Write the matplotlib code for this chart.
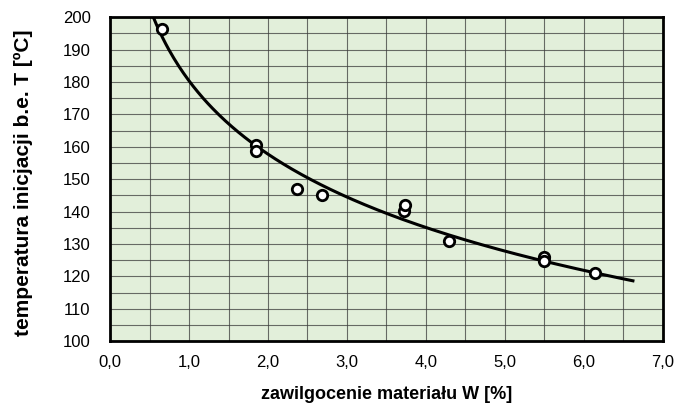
import numpy as np
import matplotlib.pyplot as plt
from matplotlib.ticker import MultipleLocator, FuncFormatter

plt.rcParams['font.family'] = ['Liberation Sans', 'DejaVu Sans']

# ---------------- data ----------------
moisture = [0.66, 1.85, 1.85, 2.37, 2.68, 3.72, 3.74, 4.29, 5.49, 5.49, 6.14]
temperature = [196.5, 160.6, 158.7, 147.0, 145.0, 140.3, 142.0, 131.0, 126.0, 124.7, 121.0]

# logarithmic trend line, drawn a bit beyond the data like Excel does
trend_from, trend_to = 0.5, 6.62
coef = np.polyfit(np.log(moisture), temperature, 1)
xt = np.linspace(trend_from, trend_to, 300)
yt = coef[0] * np.log(xt) + coef[1]

# ---------------- plot ----------------
fig = plt.figure(figsize=(6.92, 4.09), dpi=100)
ax = fig.add_axes([0.159, 0.166, 0.799, 0.792])
ax.set_facecolor('#e2efda')

ax.plot(xt, yt, color='black', lw=2.2, zorder=3)
ax.plot(moisture, temperature, 'o', ms=7.5, mfc='white', mec='black', mew=2, zorder=4)

ax.set_xlim(0, 7)
ax.set_ylim(100, 200)
ax.xaxis.set_major_locator(MultipleLocator(1))
ax.xaxis.set_minor_locator(MultipleLocator(0.5))
ax.yaxis.set_major_locator(MultipleLocator(10))
ax.yaxis.set_minor_locator(MultipleLocator(5))
ax.xaxis.set_major_formatter(FuncFormatter(lambda v, p: f"{v:.1f}".replace('.', ',')))

ax.grid(which='both', color='#3d3d3d', lw=0.8, alpha=0.75, zorder=1)
ax.set_axisbelow(True)
ax.tick_params(which='both', length=0, labelsize=12)
ax.tick_params(axis='x', pad=10)
ax.tick_params(axis='y', pad=14)
for s in ax.spines.values():
    s.set_linewidth(2)

ax.set_xlabel("zawilgocenie materiału W [%]", fontsize=13, fontweight='bold', va='center')
ax.set_ylabel("temperatura inicjacji b.e. T [ºC]", fontsize=15, fontweight='bold', va='center')
ax.xaxis.set_label_coords(0.5, -0.164)
ax.yaxis.set_label_coords(-0.157, 0.49)

fig.savefig("out.png", dpi=100)
